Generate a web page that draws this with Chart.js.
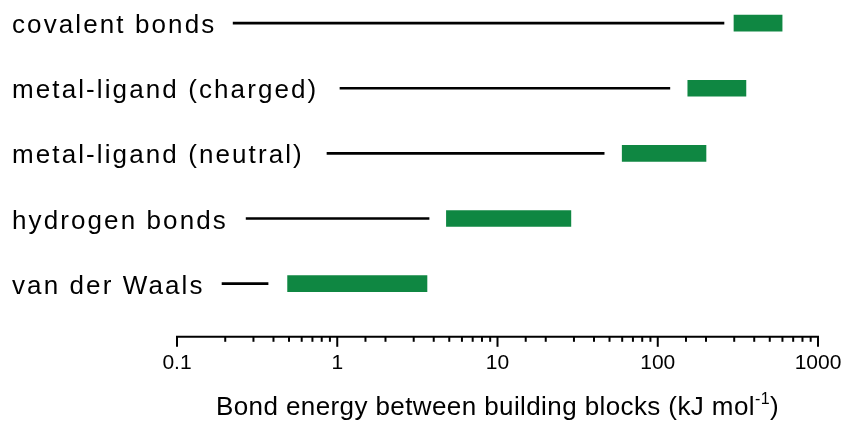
<!DOCTYPE html>
<html>
<head>
<meta charset="utf-8">
<script src="https://cdn.jsdelivr.net/npm/chart.js@4/dist/chart.umd.min.js"></script>
<style>
  html, body { margin: 0; padding: 0; background: #fff; }
  #wrap { width: 843px; height: 421px; }
</style>
</head>
<body>
<div id="wrap"><canvas id="myChart" width="843" height="421"></canvas></div>
<script>
// bond types, top to bottom
var categories = ['covalent bonds', 'metal-ligand (charged)', 'metal-ligand (neutral)', 'hydrogen bonds', 'van der Waals'];
// energy range of each bond type (kJ/mol)
var rangeLow  = [299, 154, 60, 4.8, 0.49];
var rangeHigh = [597, 355, 200, 28.7, 3.63];
// thin leader line in front of each bar
var leaderStart = [0.224, 1.04, 0.863, 0.27, 0.191];
var leaderEnd   = [259, 119, 46.3, 3.74, 0.37];
// labelled ticks on the log axis
var tickValues = [0.1, 1, 10, 100, 1000];
var tickLabels = ['0.1', '1', '10', '100', '1000'];

var FONT = '"Liberation Sans", Arial, Helvetica, sans-serif';
var green = '#0f8742';

function majorIndex(v) {
    for (var k = 0; k < tickValues.length; k++) {
        if (Math.abs(v - tickValues[k]) < tickValues[k] * 1e-6) return k;
    }
    return -1;
}

var barData = categories.map(function (c, i) { return { y: i, x: [rangeLow[i], rangeHigh[i]] }; });
var leaderData = categories.map(function (c, i) { return { y: i, x: [leaderStart[i], leaderEnd[i]] }; });

// labels, axis tick marks and axis title
var decor = {
    id: 'decor',
    afterDraw: function (chart) {
        var ctx = chart.ctx;
        var xs = chart.scales.x, ys = chart.scales.y;
        var area = chart.chartArea;
        ctx.save();

        // category labels at the left
        ctx.fillStyle = '#000';
        ctx.font = '26px ' + FONT;
        ctx.letterSpacing = '2.1px';
        ctx.textAlign = 'left';
        ctx.textBaseline = 'alphabetic';
        categories.forEach(function (c, i) {
            ctx.fillText(c, 12, ys.getPixelForValue(i) + 10);
        });

        // axis line and ticks
        var y0 = area.bottom;
        ctx.strokeStyle = '#000';
        ctx.lineWidth = 2;
        ctx.beginPath();
        ctx.moveTo(xs.left - 1, y0);
        ctx.lineTo(xs.right + 1, y0);
        ctx.stroke();
        xs.ticks.forEach(function (t) {
            var px = xs.getPixelForValue(t.value);
            var len = majorIndex(t.value) >= 0 ? 10 : 5;
            ctx.beginPath();
            ctx.moveTo(px, y0);
            ctx.lineTo(px, y0 + len);
            ctx.stroke();
        });

        // axis title with superscript
        var main = 'Bond energy between building blocks (kJ mol';
        var sup = '-1';
        var tail = ')';
        ctx.letterSpacing = '0.4px';
        ctx.font = '26px ' + FONT;
        var w1 = ctx.measureText(main).width;
        var w3 = ctx.measureText(tail).width;
        ctx.font = '16px ' + FONT;
        var w2 = ctx.measureText(sup).width;
        var cx = (xs.left + xs.right) / 2;
        var x = cx - (w1 + w2 + w3) / 2;
        var base = 415;
        ctx.font = '26px ' + FONT;
        ctx.fillText(main, x, base);
        ctx.font = '16px ' + FONT;
        ctx.fillText(sup, x + w1, base - 11);
        ctx.font = '26px ' + FONT;
        ctx.fillText(tail, x + w1 + w2, base);
        ctx.restore();
    }
};

var ctx = document.getElementById('myChart').getContext('2d');
var chart = new Chart(ctx, {
    type: 'bar',
    data: {
        datasets: [{
            label: 'leader',
            data: leaderData,
            backgroundColor: '#000',
            barThickness: 2,
            grouped: false,
            order: 2
        }, {
            label: 'range',
            data: barData,
            backgroundColor: green,
            barThickness: 16,
            grouped: false,
            order: 1
        }]
    },
    options: {
        indexAxis: 'y',
        responsive: false,
        animation: false,
        devicePixelRatio: 1,
        layout: { padding: { left: 177, right: 25, top: 0, bottom: 31 } },
        plugins: { legend: { display: false }, tooltip: { enabled: false } },
        scales: {
            y: {
                type: 'linear',
                reverse: true,
                offset: false,
                min: -0.354,
                max: 4.815,
                display: false
            },
            x: {
                type: 'logarithmic',
                position: 'bottom',
                min: 0.1,
                max: 1000,
                grid: { display: false, drawTicks: false },
                border: { display: false },
                afterFit: function (scale) {
                    // the edge labels may stick out past the plot area
                    scale.paddingLeft = 0;
                    scale.paddingRight = 0;
                },
                ticks: {
                    autoSkip: false,
                    maxRotation: 0,
                    padding: 14,
                    color: '#000',
                    font: { size: 21, family: FONT },
                    callback: function (v) {
                        var k = majorIndex(v);
                        return k >= 0 ? tickLabels[k] : '';
                    }
                }
            }
        }
    },
    plugins: [decor]
});
</script>
</body>
</html>
